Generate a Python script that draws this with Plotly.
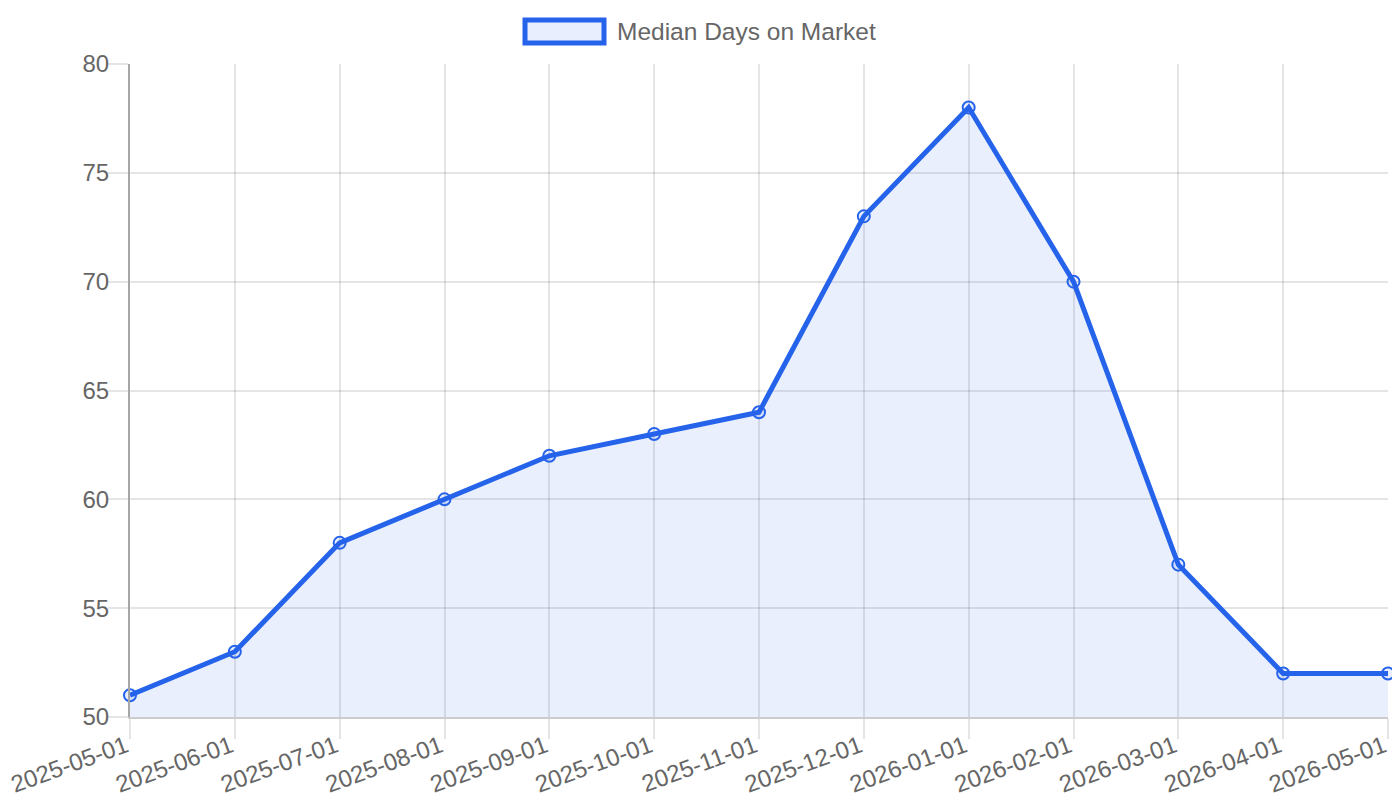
import plotly.graph_objects as go

months = ["2025-05-01", "2025-06-01", "2025-07-01", "2025-08-01", "2025-09-01",
          "2025-10-01", "2025-11-01", "2025-12-01", "2026-01-01", "2026-02-01",
          "2026-03-01", "2026-04-01", "2026-05-01"]
median_days = [51, 53, 58, 60, 62, 63, 64, 73, 78, 70, 57, 52, 52]
series_name = "Median Days on Market"

blue = "#2563eb"
fill_blue = "rgba(37,99,235,0.1)"
grid = "rgba(0,0,0,0.1)"
font_family = "Liberation Sans, Arial, sans-serif"

# page body has an 8px margin, so the figure is 8px smaller and margins shifted
W, H = 1392, 792
L, T, R, B = 122, 56, 12, 83
pw, ph = W - L - R, H - T - B

fig = go.Figure()

fig.add_trace(go.Scatter(
    x=months, y=median_days, mode="lines+markers", name=series_name,
    line=dict(color=blue, width=5),
    marker=dict(symbol="circle", size=12, color="rgba(37,99,235,0.1)",
                line=dict(color=blue, width=2)),
    fill="tozeroy", fillcolor=fill_blue,
    cliponaxis=False, showlegend=False,
))

# legend drawn by hand, chart.js style (target page px minus 8)
fig.add_shape(type="rect", xref="paper", yref="paper",
              x0=(525 - 8 - L) / pw, x1=(604 - 8 - L) / pw,
              y0=1 + (T - (43 - 8)) / ph, y1=1 + (T - (20 - 8)) / ph,
              line=dict(color=blue, width=5), fillcolor="#e8eefd")
fig.add_annotation(text=series_name, xref="paper", yref="paper",
                   x=(615 - 8 - L) / pw, y=1 + (T - (32 - 8)) / ph,
                   xanchor="left", yanchor="middle", showarrow=False,
                   font=dict(size=24.5, color="#666666", family=font_family))

fig.update_layout(
    width=W, height=H,
    margin=dict(l=L, r=R, t=T, b=B),
    plot_bgcolor="white", paper_bgcolor="white",
    font=dict(family=font_family, color="#666666", size=24),
    showlegend=False,
)
fig.update_xaxes(
    type="category", range=[0, len(months) - 1], automargin=False,
    showgrid=True, gridcolor=grid, gridwidth=2,
    ticks="outside", ticklen=20, tickwidth=2, tickcolor=grid,
    tickangle=-20, tickfont=dict(size=24, color="#666666"),
    ticklabelstandoff=-16, ticklabelshift=-4,
    showline=True, linecolor="rgba(0,0,0,0.2)", linewidth=2,
    zeroline=False,
)
fig.update_yaxes(
    range=[50, 80], dtick=5, automargin=False,
    showgrid=True, gridcolor=grid, gridwidth=2,
    ticks="outside", ticklen=20, tickwidth=2, tickcolor=grid,
    tickfont=dict(size=24, color="#666666"),
    ticklabelstandoff=-6,
    showline=True, linecolor="#a6a6a6", linewidth=2,
    zeroline=False,
)

fig.write_html("out.html")
